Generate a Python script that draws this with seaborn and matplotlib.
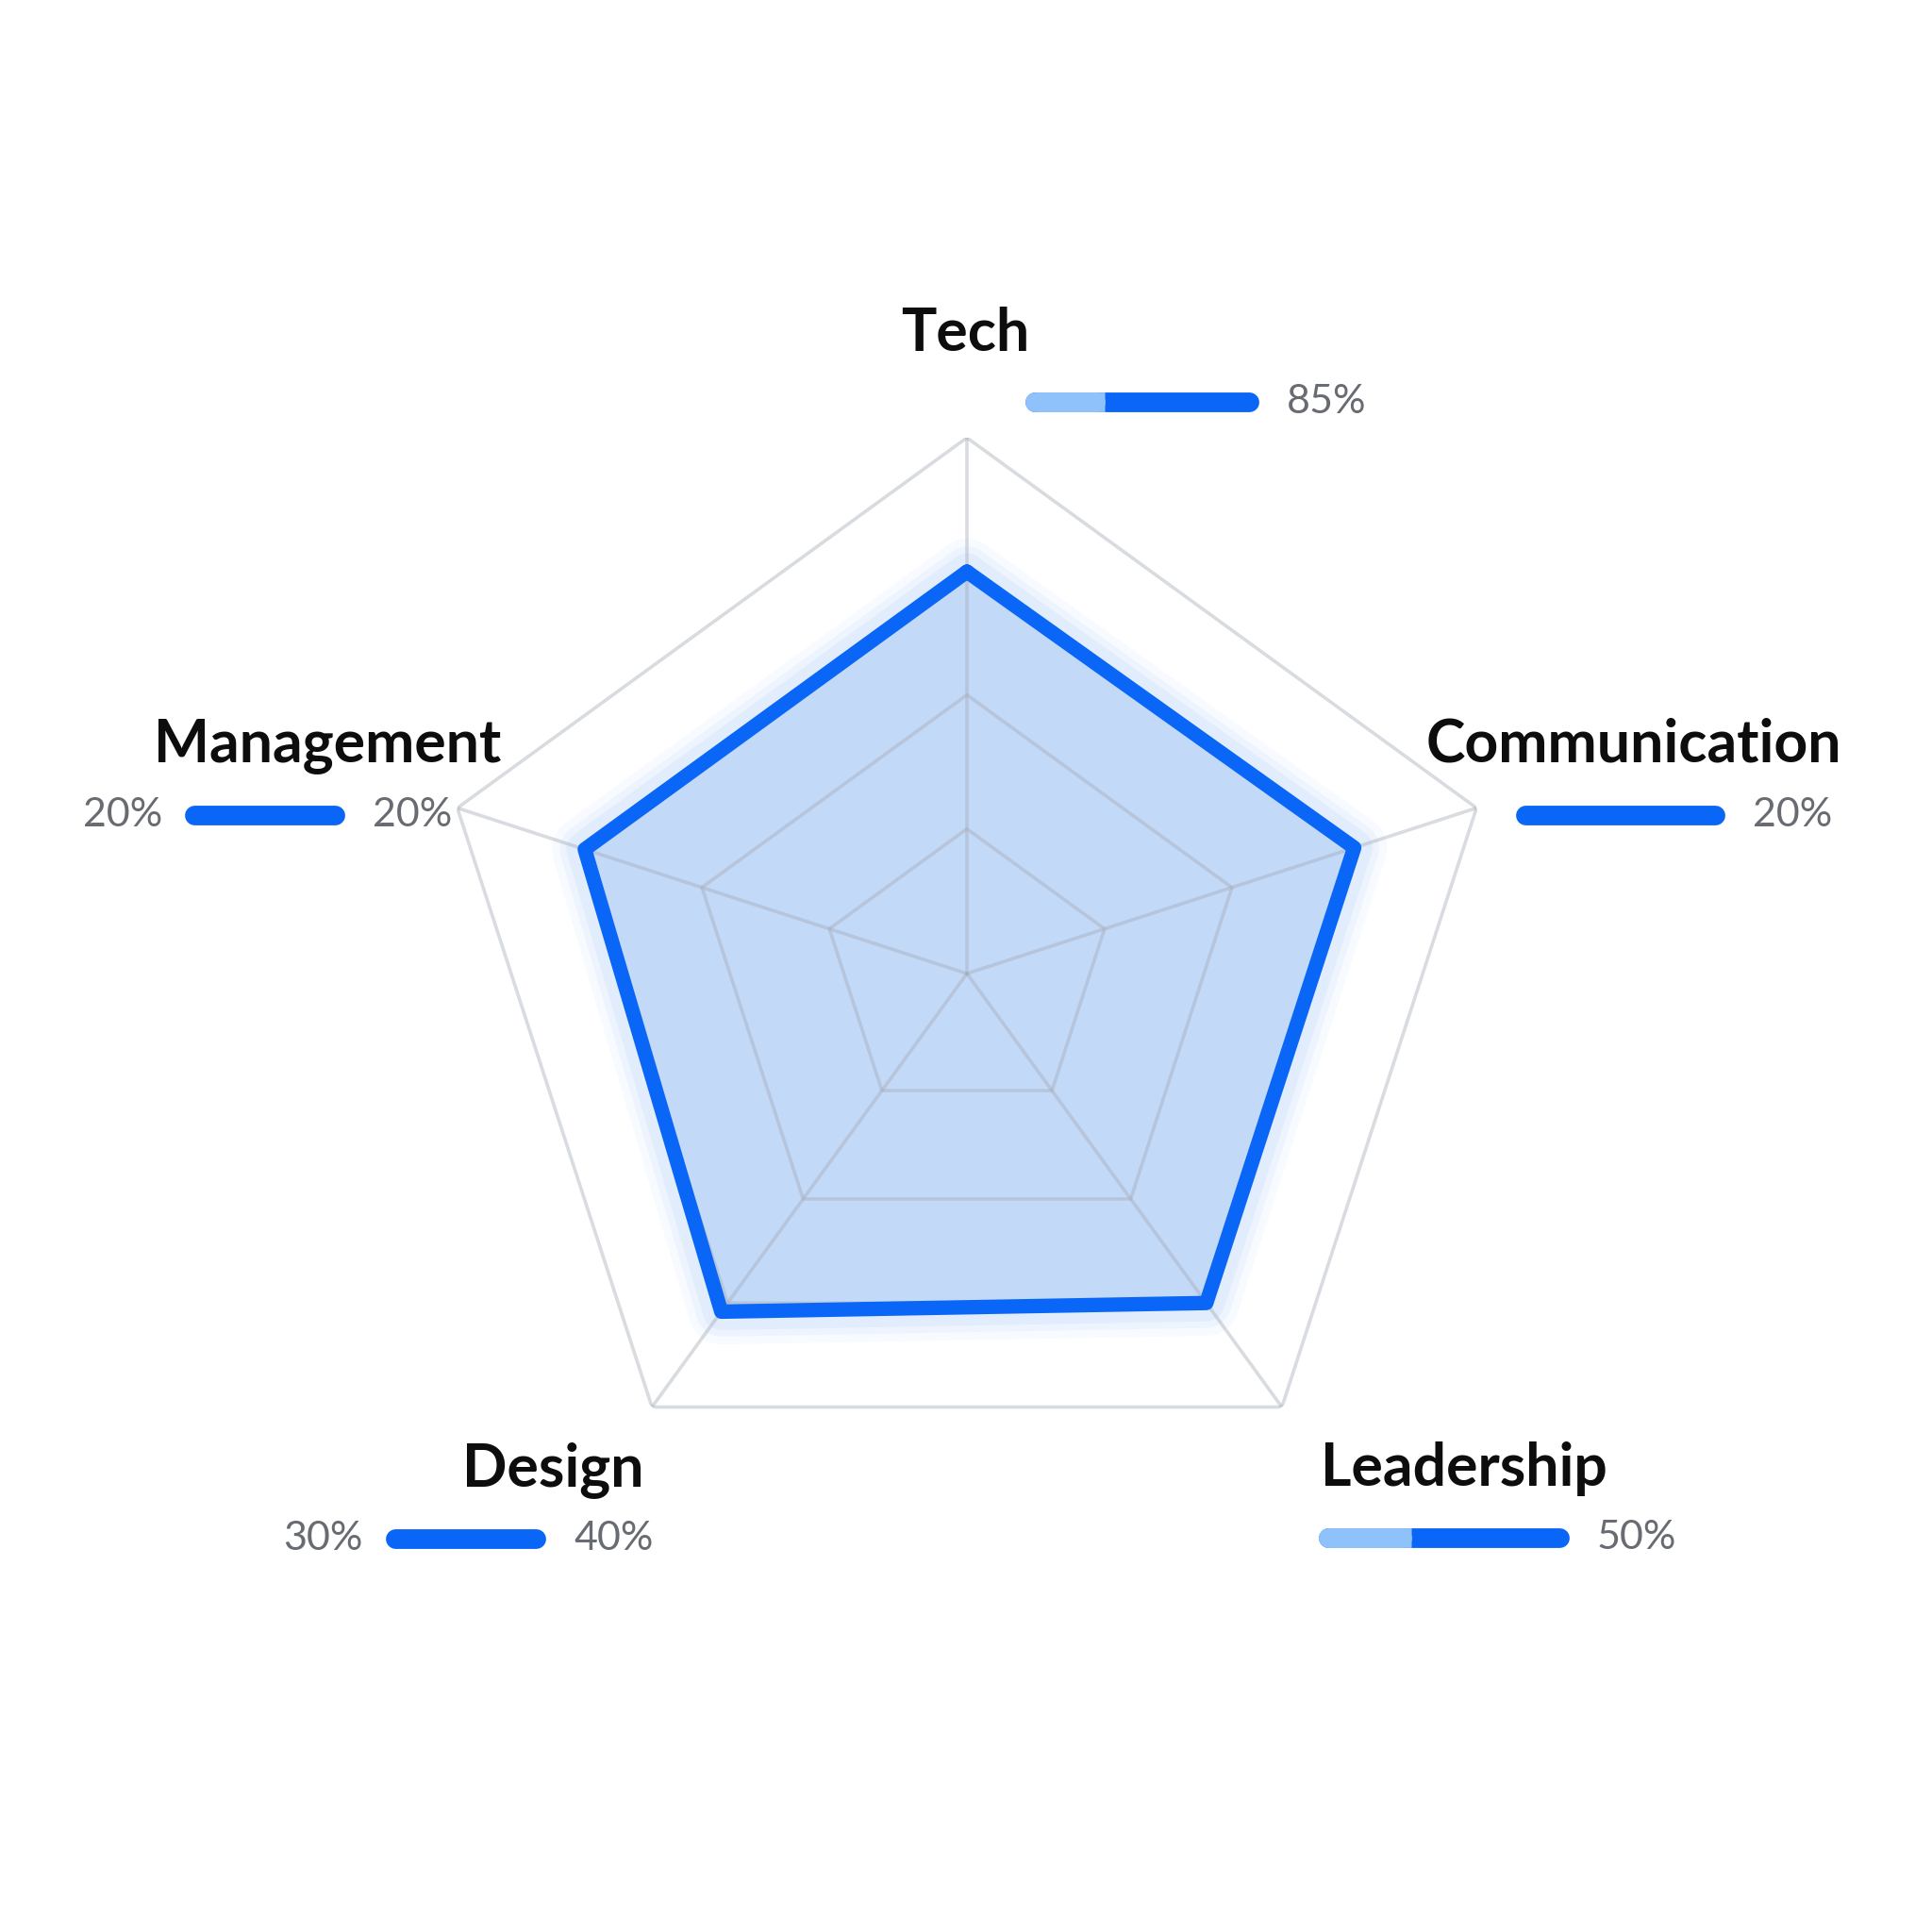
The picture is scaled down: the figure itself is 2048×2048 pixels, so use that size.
import numpy as np
import pandas as pd
import matplotlib.pyplot as plt
import seaborn as sns

# Radar values (0-100 scale)
categories = ["Tech", "Communication", "Leadership", "Design", "Management"]
scores = [75, 76, 76, 78, 75]
ring_levels = [27, 52, 76, 100]

# Mini bar captions next to each label
left_pct = ["", "", "", "30%", "20%"]
right_pct = ["85%", "20%", "50%", "40%", "20%"]
light_share = [0.34, 0.0, 0.37, 0.0, 0.0]

sns.set_theme(style="white")
plt.rcParams["font.family"] = ["Lato", "DejaVu Sans"]

W = 2048
fig = plt.figure(figsize=(20.48, 20.48), dpi=100)
fig.patch.set_facecolor("white")

# polar axes placed so the chart centre sits where it does in the picture
cx, cy, R = 1025, 1032, 568
ax = fig.add_axes([(cx - R) / W, 1 - (cy + R) / W, 2 * R / W, 2 * R / W],
                  projection="polar")
ax.set_theta_offset(np.pi / 2)
ax.set_theta_direction(-1)
ax.set_ylim(0, 100)
ax.axis("off")

angles = np.linspace(0, 2 * np.pi, len(categories), endpoint=False)
closed_angles = np.append(angles, angles[0] + 2 * np.pi)
closed_scores = scores + scores[:1]

blue = "#0A66F6"

# soft glow + fill
for lw, a in [(50, 0.03), (38, 0.04), (28, 0.05)]:
    ax.plot(closed_angles, closed_scores, color=blue, lw=lw, alpha=a,
            solid_joinstyle="round", zorder=1)
ax.fill(closed_angles, closed_scores, color="#C3D9F8", zorder=2)

# pentagon grid + spokes
grid_kw = dict(color="#A4ABB5", alpha=0.42, lw=2.6, zorder=3)
for lvl in ring_levels:
    ax.plot(closed_angles, [lvl] * len(closed_angles), **grid_kw)
for a in angles:
    ax.plot([a, a], [0, 100], **grid_kw)

# outline
df = pd.DataFrame({"theta": closed_angles, "score": closed_scores})
sns.lineplot(data=df, x="theta", y="score", sort=False, ax=ax, color=blue,
             lw=11, zorder=5)
for ln in ax.lines[-1:]:
    ln.set_solid_joinstyle("round")
    ln.set_solid_capstyle("round")
ax.set_xlabel("")
ax.set_ylabel("")

# overlay in pixel coordinates for labels and mini bars
ov = fig.add_axes([0, 0, 1, 1])
ov.set_xlim(0, W)
ov.set_ylim(W, 0)
ov.axis("off")
ov.patch.set_alpha(0)

# title centre x, title baseline y, bar x0, bar x1, bar y
layout = {
    "Tech": (1023, 372, 1087, 1334, 426),
    "Communication": (1732, 808, 1607, 1828, 864),
    "Leadership": (1552, 1575, 1398, 1663, 1630),
    "Design": (586, 1575, 409, 578, 1631),
    "Management": (347, 807, 196, 365, 864),
}

bar_lw = 15
hw = bar_lw * 100 / 72 / 2
for cat, lp, rp, share in zip(categories, left_pct, right_pct, light_share):
    tx, ty, x0, x1, by = layout[cat]
    ov.text(tx, ty, cat, ha="center", va="baseline", fontsize=45,
            fontweight="bold", color="#0D0D0D")
    ov.plot([x0 + hw, x1 - hw], [by, by], color=blue, lw=bar_lw,
            solid_capstyle="round")
    if share > 0:
        xs = x0 + share * (x1 - x0)
        ov.plot([x0 + hw, xs - hw], [by, by], color="#8FC2FA", lw=bar_lw,
                solid_capstyle="round")
        ov.plot([x0 + hw, xs], [by, by], color="#8FC2FA", lw=bar_lw,
                solid_capstyle="butt")
    if lp:
        ov.text(x0 - 24, by, lp, ha="right", va="center", fontsize=31,
                color="#686C72")
    ov.text(x1 + 30, by, rp, ha="left", va="center", fontsize=31,
            color="#686C72")

fig.savefig("out.png", dpi=100, facecolor="white")
